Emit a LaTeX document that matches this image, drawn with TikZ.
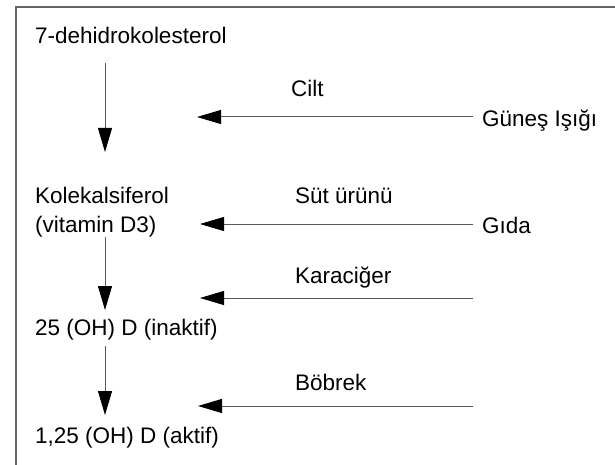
\documentclass[tikz,border=0pt]{standalone}
\usepackage{fontspec}
\setmainfont{Liberation Sans}
\usetikzlibrary{arrows.meta}
\begin{document}
\begin{tikzpicture}[x=1pt,y=-1pt,
  lbl/.style={anchor=base west,inner sep=0pt,font=\fontsize{22.5}{27}\selectfont},
  flow/.style={draw=black!65,line width=1pt,
    -{Triangle[length=24pt,width=14pt,color=black]}},
  frameline/.style={draw=black!60,line width=1.2pt}]
\useasboundingbox (0,0) rectangle (615,465);
% open frame: top and left edges only
\draw[frameline] (16,465) -- (16,7) -- (615,7);

% metabolic chain (left column)
\node[lbl] (dehydro)    at (35,44)  {7-dehidrokolesterol};
\node[lbl] (chole)      at (35,203) {Kolekalsiferol};
\node[lbl] (vitd)       at (35,232) {(vitamin D3)};
\node[lbl] (calcidiol)  at (35,335) {25 (OH) D (inaktif)};
\node[lbl] (calcitriol) at (35,443) {1,25 (OH) D (aktif)};

% sources and organs
\node[lbl] (skin)   at (291,97)  {Cilt};
\node[lbl] (sun)    at (482,127) {Güneş Işığı};
\node[lbl] (dairy)  at (295,203) {Süt ürünü};
\node[lbl] (food)   at (482,233) {Gıda};
\node[lbl] (liver)  at (295,283) {Karaciğer};
\node[lbl] (kidney) at (295,390) {Böbrek};

% arrow end points
\coordinate (v1a) at (105,63);  \coordinate (v1b) at (105,152);
\coordinate (v2a) at (105,237); \coordinate (v2b) at (105,310);
\coordinate (v3a) at (105,346); \coordinate (v3b) at (105,415);
\coordinate (sunend)   at (473,117); \coordinate (sunhead)   at (197,117);
\coordinate (foodend)  at (473,224); \coordinate (foodhead)  at (200,224);
\coordinate (liverend) at (473,298); \coordinate (liverhead) at (200,298);
\coordinate (kidend)   at (473,406); \coordinate (kidhead)   at (198,406);

% downward steps
\draw[flow] (v1a) -- (v1b);
\draw[flow] (v2a) -- (v2b);
\draw[flow] (v3a) -- (v3b);

% inputs from the right
\draw[flow] (sunend) -- (sunhead);
\draw[flow] (foodend) -- (foodhead);
\draw[flow] (liverend) -- (liverhead);
\draw[flow] (kidend) -- (kidhead);
\end{tikzpicture}
\end{document}
